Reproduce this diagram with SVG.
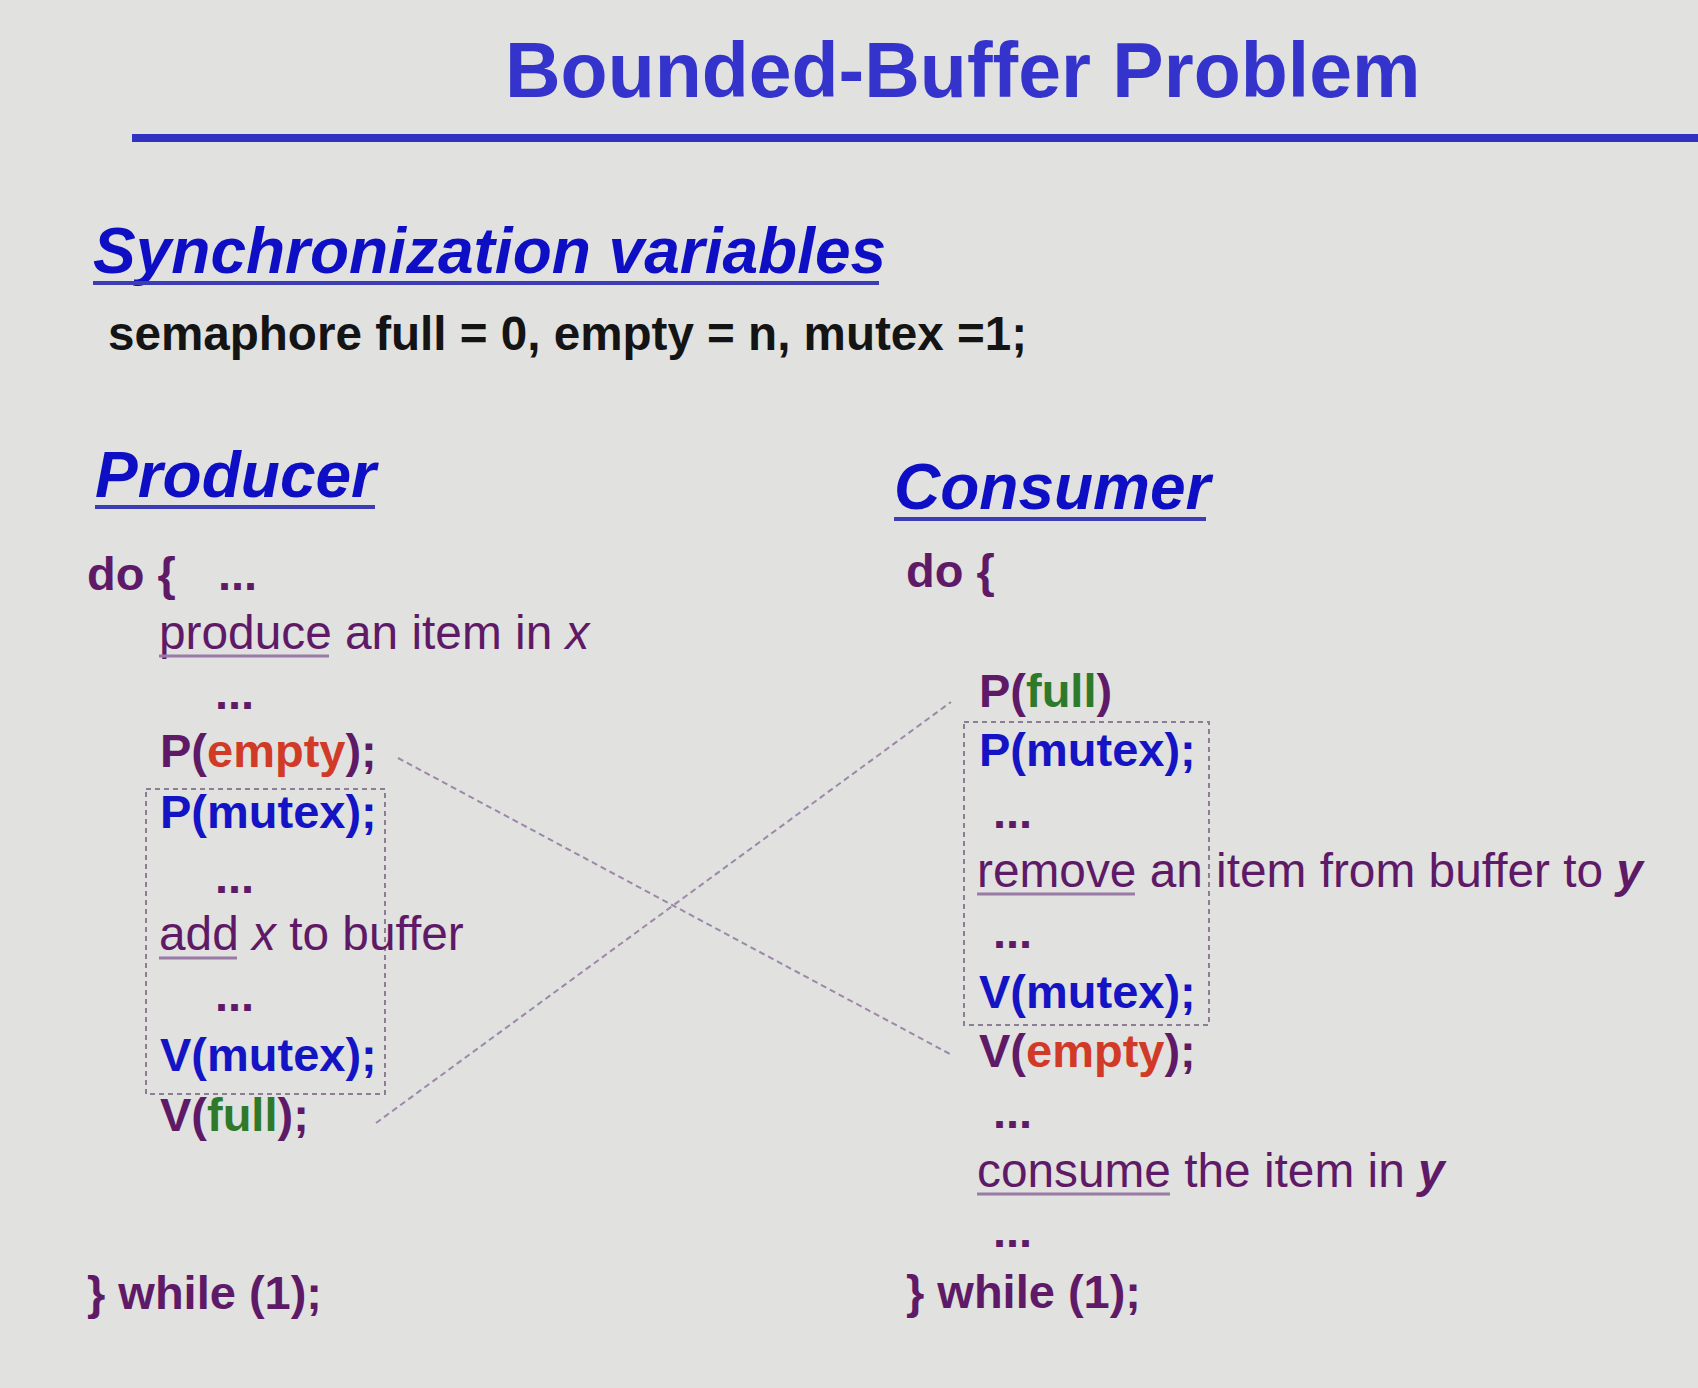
<svg xmlns="http://www.w3.org/2000/svg" width="1698" height="1388" viewBox="0 0 1698 1388">
<style>
  text { font-family: "Liberation Sans", Arial, sans-serif; }
  .title { font-size: 77px; font-weight: bold; fill: #3434cc; }
  .head { font-size: 64px; font-weight: bold; font-style: italic; fill: #0e0ec4; }
  .headline { stroke: #3c3cb4; stroke-width: 4; }
  .decl { font-size: 47.6px; font-weight: bold; fill: #141414; }
  .code { font-size: 47px; font-weight: bold; fill: #5e1a66; }
  .plain { font-size: 47.8px; font-weight: normal; fill: #5e1a66; }
  .mx { fill: #1414c4; }
  .em { fill: #d23a28; }
  .fu { fill: #2e7a2a; }
  .ul { stroke: #9a7aa6; stroke-width: 3; }
  .box { fill: none; stroke: #8c7c94; stroke-width: 2; stroke-dasharray: 5 4; }
  .conn { fill: none; stroke: #9c88a8; stroke-width: 2; stroke-dasharray: 6 4; }
</style>
<rect x="0" y="0" width="1698" height="1388" fill="#e1e1df"/>

<g id="title">
  <text class="title" x="505" y="97">Bounded-Buffer Problem</text>
  <line x1="132" y1="138" x2="1698" y2="138" stroke="#3232c2" stroke-width="8"/>
</g>

<g id="sync-vars">
  <text class="head" x="93" y="273">Synchronization variables</text>
  <line class="headline" x1="93" y1="283" x2="879" y2="283"/>
  <text class="decl" x="108" y="350">semaphore full = 0, empty = n, mutex =1;</text>
</g>

<g id="producer">
  <text class="head" x="95" y="497">Producer</text>
  <line class="headline" x1="95" y1="507" x2="375" y2="507"/>
  <text class="code" x="87" y="590">do {<tspan x="218">...</tspan></text>
  <text class="plain" x="159" y="649">produce an item in <tspan font-style="italic">x</tspan></text>
  <line class="ul" x1="159" y1="656" x2="329" y2="656"/>
  <text class="code" x="215" y="709">...</text>
  <text class="code" x="160" y="767">P(<tspan class="em">empty</tspan>);</text>
  <rect class="box" x="146" y="789" width="239" height="305"/>
  <text class="code mx" x="160" y="828">P(mutex);</text>
  <text class="code" x="215" y="893">...</text>
  <text class="plain" x="159" y="950">add <tspan font-style="italic">x</tspan> to buffer</text>
  <line class="ul" x1="159" y1="958" x2="237" y2="958"/>
  <text class="code" x="215" y="1011">...</text>
  <text class="code mx" x="160" y="1071">V(mutex);</text>
  <text class="code" x="160" y="1131">V(<tspan class="fu">full</tspan>);</text>
  <text class="code" x="87" y="1309">} while (1);</text>
</g>

<g id="consumer">
  <text class="head" x="894" y="509">Consumer</text>
  <line class="headline" x1="894" y1="519" x2="1206" y2="519"/>
  <text class="code" x="906" y="587">do {</text>
  <text class="code" x="979" y="707">P(<tspan class="fu">full</tspan>)</text>
  <rect class="box" x="964" y="722" width="245" height="303"/>
  <text class="code mx" x="979" y="766">P(mutex);</text>
  <text class="code" x="993" y="828">...</text>
  <text class="plain" x="977" y="887">remove an item from buffer to <tspan font-weight="bold" font-style="italic">y</tspan></text>
  <line class="ul" x1="977" y1="894" x2="1135" y2="894"/>
  <text class="code" x="993" y="948">...</text>
  <text class="code mx" x="979" y="1008">V(mutex);</text>
  <text class="code" x="979" y="1067">V(<tspan class="em">empty</tspan>);</text>
  <text class="code" x="993" y="1128">...</text>
  <text class="plain" x="977" y="1187">consume the item in <tspan font-weight="bold" font-style="italic">y</tspan></text>
  <line class="ul" x1="977" y1="1194" x2="1170" y2="1194"/>
  <text class="code" x="993" y="1247">...</text>
  <text class="code" x="906" y="1308">} while (1);</text>
</g>

<g id="connectors">
  <line class="conn" x1="398" y1="758" x2="950" y2="1054"/>
  <line class="conn" x1="376" y1="1123" x2="951" y2="702"/>
</g>
</svg>
